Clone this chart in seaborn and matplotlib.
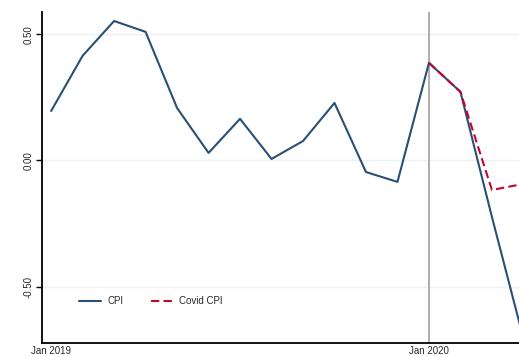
import matplotlib
matplotlib.use("Agg")
import matplotlib.pyplot as plt
import seaborn as sns
import pandas as pd
import numpy as np

months = ["2019-01", "2019-02", "2019-03", "2019-04", "2019-05", "2019-06",
          "2019-07", "2019-08", "2019-09", "2019-10", "2019-11", "2019-12",
          "2020-01", "2020-02", "2020-03", "2020-04"]
cpi = [0.196, 0.415, 0.553, 0.51, 0.208, 0.03, 0.165, 0.006, 0.077, 0.228,
       -0.046, -0.085, 0.387, 0.272, -0.224, -0.705]
covid_months = ["2020-01", "2020-02", "2020-03", "2020-04"]
covid_cpi = [0.387, 0.272, -0.117, -0.093]
xtick_labels = ["Jan 2019", "Jan 2020"]
ytick_vals = [-0.5, 0.0, 0.5]
ytick_labels = ["-0.50", "0.00", "0.50"]

sns.set_style("white")
plt.rcParams['font.family'] = ['Liberation Sans', 'DejaVu Sans']

idx = {m: i for i, m in enumerate(months)}
df = pd.DataFrame({
    "t": [idx[m] for m in months] + [idx[m] for m in covid_months],
    "value": cpi + covid_cpi,
    "series": ["CPI"] * len(cpi) + ["Covid CPI"] * len(covid_cpi),
})

fig = plt.figure(figsize=(5.19, 3.56), dpi=100)
ax = fig.add_axes([0.0809, 0.0365, 0.9191, 0.93])

for y in ytick_vals:
    ax.axhline(y, color="#eaf2f3", lw=1.0, zorder=0)
ax.axvline(idx["2020-01"], color="#a8a8a8", lw=1.3, zorder=1)

sns.lineplot(data=df, x="t", y="value", hue="series", style="series",
             palette={"CPI": "#2a4f75", "Covid CPI": "#c10534"},
             dashes={"CPI": "", "Covid CPI": (4, 2)},
             linewidth=1.5, ax=ax, legend=True, zorder=3)

ax.set_xlim(-0.29, 14.86)
ax.set_ylim(-0.724, 0.589)
ax.set_xticks([idx["2019-01"], idx["2020-01"]])
ax.set_xticklabels(xtick_labels, fontsize=7)
ax.set_yticks(ytick_vals)
ax.set_yticklabels(ytick_labels, fontsize=7, rotation=90, va="center")
ax.tick_params(axis="y", length=4, width=1, color="#000000", pad=2, left=True)
ax.tick_params(axis="x", length=0, pad=2)
ax.set_xlabel("")
ax.set_ylabel("")
for s in ["top", "right"]:
    ax.spines[s].set_visible(False)
for s in ["left", "bottom"]:
    ax.spines[s].set_color("#000000")
    ax.spines[s].set_linewidth(1.3)

h, l = ax.get_legend_handles_labels()
ax.legend(h, l, loc="lower left", bbox_to_anchor=(0.06, 0.085), ncol=2,
          frameon=False, fontsize=7, handlelength=2.2, columnspacing=2.8,
          handletextpad=0.7)

fig.savefig("out.png", dpi=100)
